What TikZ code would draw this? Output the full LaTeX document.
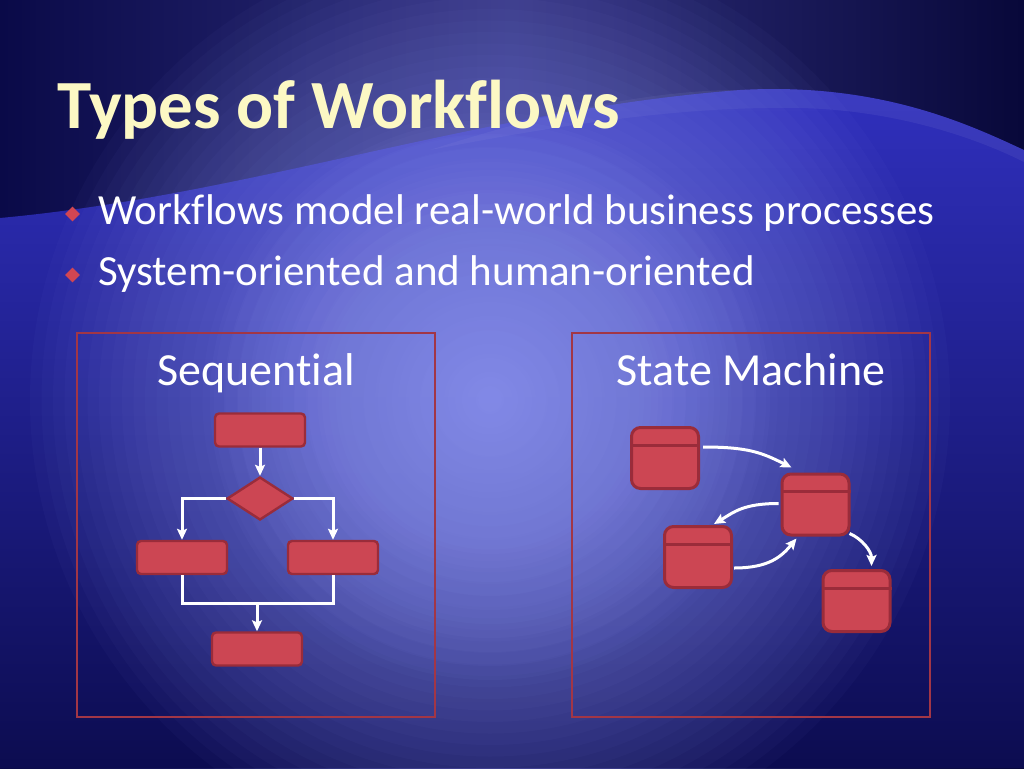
\documentclass[tikz,border=0pt]{standalone}
\usepackage{fontspec}
\setmainfont{Carlito}[Ligatures=NoCommon]
\usetikzlibrary{arrows.meta,shapes.geometric,calc}
\definecolor{navy}{HTML}{0A0A48}
\definecolor{topmid}{HTML}{2E2E7C}
\definecolor{wavetop}{HTML}{3030BE}
\definecolor{wavemid}{HTML}{1E1E88}
\definecolor{wavebot}{HTML}{0C0C50}
\definecolor{glowc}{HTML}{9CA4FF}
\definecolor{titlec}{HTML}{FCF8C4}
\definecolor{boxfill}{HTML}{CC4653}
\definecolor{boxline}{HTML}{9A2C3A}
\definecolor{panelline}{HTML}{A23646}
\definecolor{bulletred}{HTML}{D24652}
\begin{document}
\begin{tikzpicture}[x=1pt,y=-1pt,
  panel/.style={draw=panelline, line width=2.8pt, minimum width=358pt, minimum height=384pt, inner sep=0pt},
  seqbox/.style={draw=boxline, fill=boxfill, line width=2.4pt, rounded corners=4pt, minimum width=90pt, minimum height=33pt, inner sep=0pt},
  decbox/.style={draw=boxline, fill=boxfill, line width=2.4pt, diamond, aspect=1.5, minimum width=66pt, minimum height=43pt, inner sep=0pt},
  statebox/.style={draw=boxline, fill=boxfill, line width=3pt, rounded corners=9pt, minimum width=67pt, minimum height=61pt, inner sep=0pt},
  divline/.style={draw=boxline, line width=3pt},
  arr/.style={draw=white, line width=3pt, -{Stealth[length=11pt,width=10pt,inset=2pt]}},
  wire/.style={draw=white, line width=3pt},
  heading/.style={anchor=base, text=white, font=\fontsize{46}{54}\selectfont, inner sep=0pt},
  bullettext/.style={anchor=base west, text=white, font=\fontsize{43}{52}\selectfont, inner sep=0pt},
  bulletd/.style={diamond, fill=bulletred, minimum width=15pt, minimum height=15pt, inner sep=0pt},
  titletext/.style={anchor=base west, text=titlec, font=\bfseries\fontsize{69}{80}\selectfont, inner sep=0pt}
]
\useasboundingbox (0,0) rectangle (1024,768);
% background
\fill[navy] (0,0) rectangle (1024,768);
\shade[left color=navy, right color=navy!80!black, middle color=topmid] (0,0) rectangle (1024,768);
\shade[top color=wavetop, bottom color=wavebot, middle color=wavemid]
  (0,218) .. controls (250,195) and (480,110) .. (740,90)
  .. controls (880,82) and (970,125) .. (1024,150) -- (1024,768) -- (0,768) -- cycle;
\fill[white, opacity=0.06]
  (430,150) .. controls (560,108) and (660,90) .. (740,90)
  .. controls (880,82) and (970,125) .. (1024,150) -- (1024,162)
  .. controls (970,135) and (890,110) .. (800,108)
  .. controls (680,106) and (560,125) .. (430,150) -- cycle;
\foreach \i in {1,...,40}{
  \fill[glowc, opacity=0.03] (490,400) circle ({11.5*\i});
}
\foreach \i in {1,...,20}{
  \fill[glowc, opacity=0.045] (490,400) circle ({14*\i});
}

% title
\node[titletext] (title) at (57,128) {Types of Workflows};

% bullets
\node[bulletd] (b1) at (72.5,214) {};
\node[bullettext] (t1) at (98,224) {Workflows model real-world business processes};
\node[bulletd] (b2) at (72.5,275) {};
\node[bullettext] (t2) at (98,285) {System-oriented and human-oriented};

% panels
\node[panel] (seqpanel) at (256,525) {};
\node[panel] (smpanel) at (751,525) {};
\node[heading] (seqhead) at (256,385) {Sequential};
\node[heading] (smhead) at (751,385) {State Machine};

% sequential flow
\node[seqbox] (stop) at (260,430) {};
\node[decbox] (dec) at (260,498.5) {};
\node[seqbox] (sleft) at (182,557.5) {};
\node[seqbox] (sright) at (333,557.5) {};
\node[seqbox] (sbot) at (257,649) {};
\coordinate (join) at (257,603);
\draw[arr] (stop) -- (dec);
\draw[arr] (dec.west) -| (sleft.north);
\draw[arr] (dec.east) -| (sright.north);
\draw[wire] (sleft.south) |- (join) -| (sright.south);
\draw[arr] (join) -- (sbot);

% state machine
\node[statebox] (sa) at (665,458) {};
\node[statebox] (sb) at (815.5,504.5) {};
\node[statebox] (sc) at (698,557) {};
\node[statebox] (sd) at (856.5,601) {};
\foreach \n in {sa,sb,sc,sd}{
  \draw[divline] ($(\n.north west)+(0,19)$) -- ($(\n.north east)+(0,19)$);
}
\draw[arr] ($(sa.east)+(3,-11)$) .. controls +(45,0) and +(-30,-15) .. ($(sb.north west)+(11,-5)$);
\draw[arr] ($(sb.west)+(-2,-1)$) .. controls +(-35,0) and +(20,-12) .. ($(sc.north east)+(-19,-1)$);
\draw[arr] ($(sc.east)+(1,11)$) .. controls +(35,0) and +(-15,18) .. ($(sb.south west)+(16,2)$);
\draw[arr] ($(sb.south east)+(-1,-3)$) .. controls +(12,5) and +(0,-15) .. ($(sd.north east)+(-20,-3)$);
\end{tikzpicture}
\end{document}
